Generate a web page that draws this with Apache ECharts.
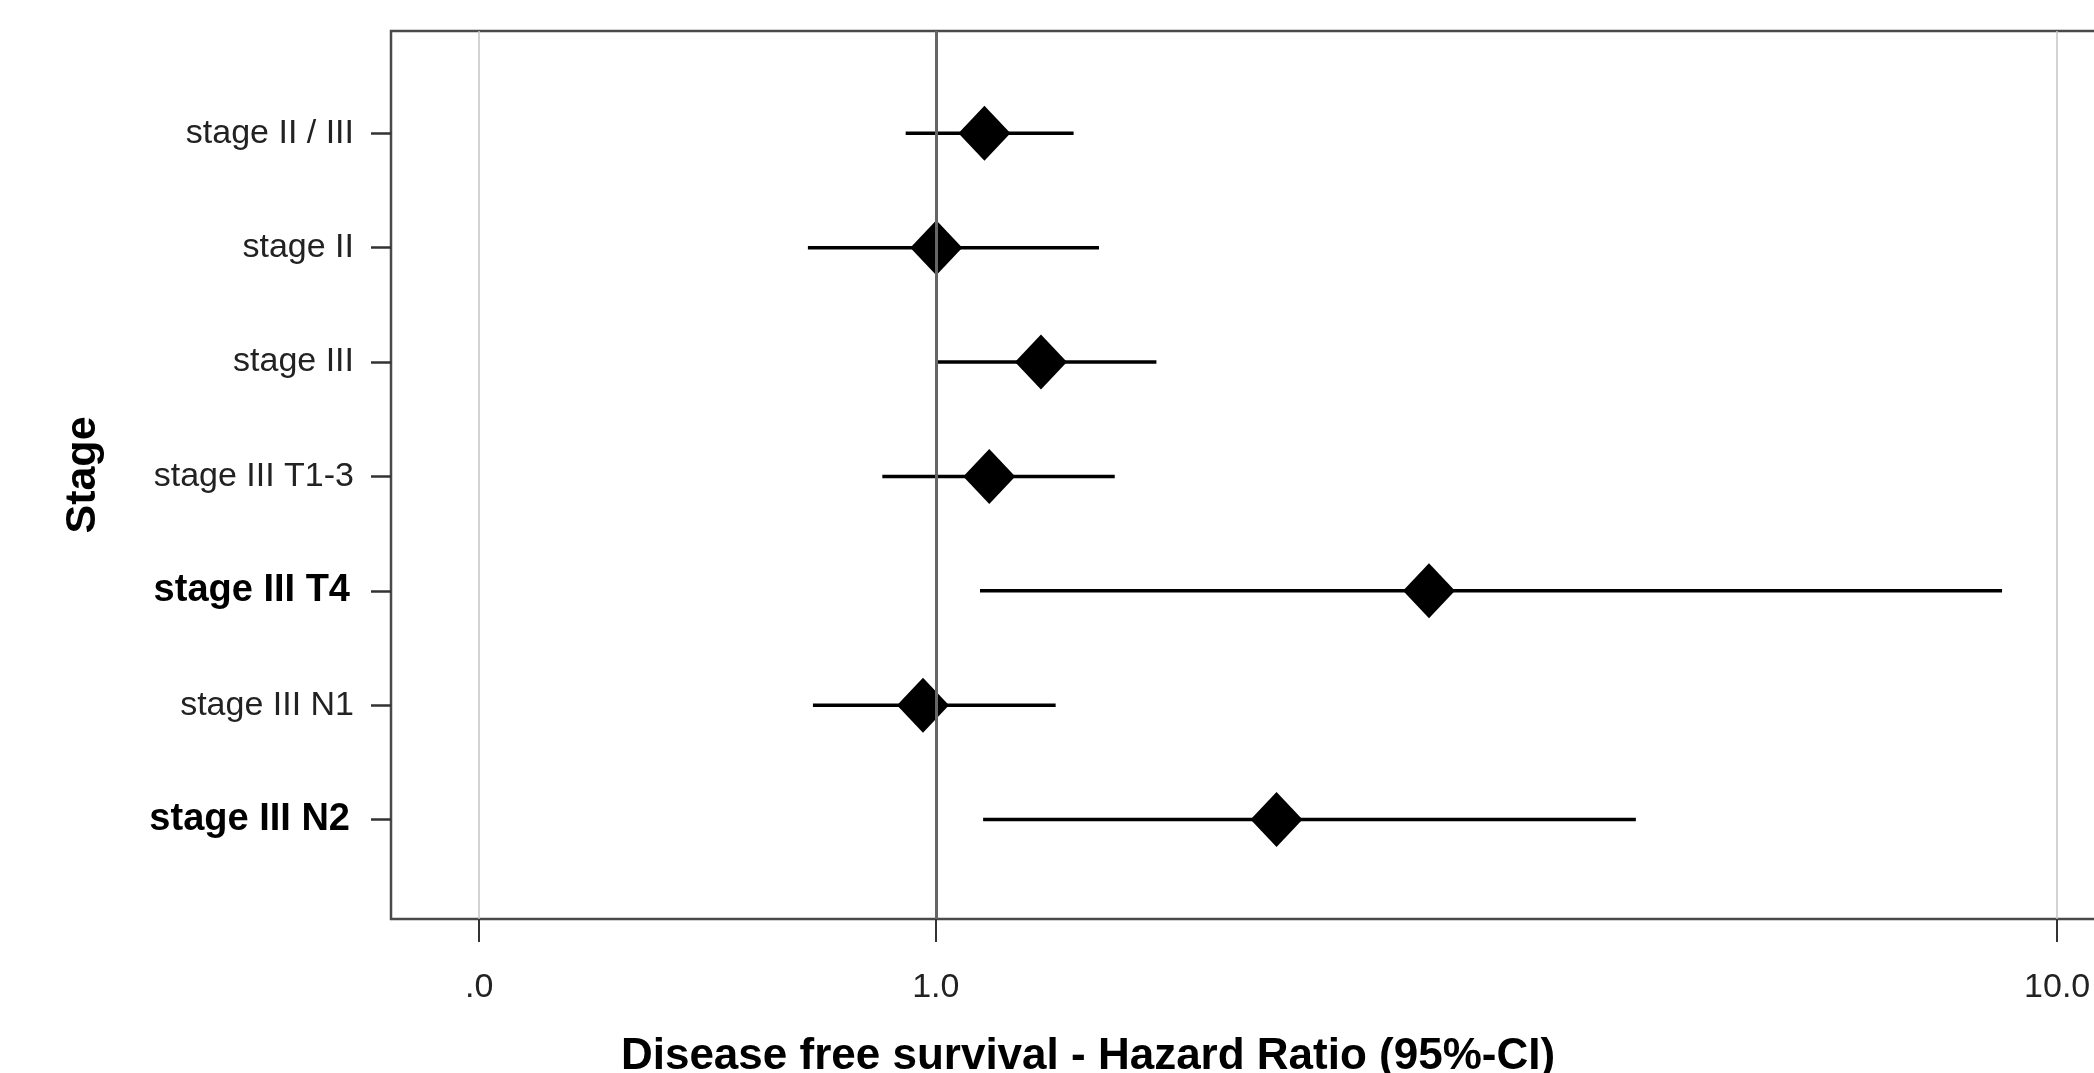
<!DOCTYPE html>
<html>
<head>
<meta charset="utf-8">
<script src="https://cdn.jsdelivr.net/npm/echarts@6/dist/echarts.min.js"></script>
<style>
html, body { margin: 0; padding: 0; background: #fff; }
#chart { width: 2094px; height: 1073px; }
</style>
</head>
<body>
<div id="chart"></div>
<script>
var stages = ['stage II / III', 'stage II', 'stage III', 'stage III T1-3', 'stage III T4', 'stage III N1', 'stage III N2'];
var boldStages = ['stage III T4', 'stage III N2'];
var hazardRatio = [1.105, 1.001, 1.241, 1.116, 2.753, 0.974, 2.013];
var ciLower = [0.940, 0.769, 1.004, 0.896, 1.095, 0.777, 1.102];
var ciUpper = [1.327, 1.398, 1.573, 1.444, 8.93, 1.279, 4.21];
var tickValues = [0.3916, 1, 10];
var tickLabels = ['.0', '1.0', '10.0'];
var xMin = 0.3267, xMax = 10.83;

var FONT = "'Liberation Sans', Arial, sans-serif";
var lg = function (v) { return Math.log10(v); };
var rows = stages.map(function (s, i) { return i + 1; });

var ciData = stages.map(function (s, i) {
    return [lg(ciLower[i]), lg(ciUpper[i]), i + 1];
});
var pointData = stages.map(function (s, i) {
    return [lg(hazardRatio[i]), i + 1];
});
var logTicks = tickValues.map(lg);

var myChart = echarts.init(document.getElementById('chart'));

var option = {
    animation: false,
    backgroundColor: '#fff',
    grid: {
        left: 391,
        right: -2,
        top: 31,
        bottom: 154,
        outerBoundsMode: 'none',
        containLabel: false,
        show: true,
        borderColor: '#4a4a4a',
        borderWidth: 2.5,
        backgroundColor: 'transparent'
    },
    xAxis: {
        type: 'value',
        min: lg(xMin),
        max: lg(xMax),
        axisLine: { show: false, onZero: false },
        axisTick: {
            show: true,
            customValues: logTicks,
            length: 23,
            lineStyle: { color: '#333', width: 2 }
        },
        axisLabel: {
            customValues: logTicks,
            margin: 52,
            fontFamily: FONT,
            fontSize: 34,
            color: '#222',
            formatter: function (v) {
                var best = 0;
                logTicks.forEach(function (t, k) {
                    if (Math.abs(t - v) < Math.abs(logTicks[best] - v)) best = k;
                });
                return tickLabels[best];
            }
        },
        splitLine: {
            show: true,
            lineStyle: { color: '#c4c4c4', width: 1.5 }
        },
        name: 'Disease free survival - Hazard Ratio (95%-CI)',
        nameLocation: 'middle',
        nameGap: 116,
        nameTextStyle: {
            fontFamily: FONT,
            fontWeight: 'bold',
            fontSize: 44,
            color: '#000',
            padding: [0, 311, 0, 0]
        }
    },
    yAxis: {
        type: 'value',
        inverse: true,
        min: 0.105,
        max: 7.87,
        axisLine: { show: false, onZero: false },
        axisTick: {
            show: true,
            customValues: rows,
            length: 20,
            lineStyle: { color: '#333', width: 2.5 }
        },
        axisLabel: {
            customValues: rows,
            margin: 37,
            fontFamily: FONT,
            fontSize: 34,
            color: '#222',
            formatter: function (v) {
                var name = stages[Math.round(v) - 1];
                return boldStages.indexOf(name) >= 0 ? '{b|' + name + '}' : name;
            },
            rich: {
                b: { fontFamily: FONT, fontSize: 38, fontWeight: 'bold', color: '#000', padding: [0, 4, 0, 0] }
            }
        },
        splitLine: { show: false },
        name: 'Stage',
        nameLocation: 'middle',
        nameRotate: 90,
        nameGap: 286,
        nameTextStyle: {
            fontFamily: FONT,
            fontWeight: 'bold',
            fontSize: 43,
            color: '#000'
        }
    },
    series: [
        {
            // reference line at HR = 1
            type: 'scatter',
            data: [],
            z: 1,
            markLine: {
                silent: true,
                symbol: 'none',
                label: { show: false },
                lineStyle: { color: '#666', width: 3, type: 'solid' },
                data: [{ xAxis: 0 }]
            }
        },
        {
            name: 'CI',
            type: 'custom',
            z: 3,
            encode: { x: [0, 1], y: 2 },
            data: ciData,
            renderItem: function (params, api) {
                var p1 = api.coord([api.value(0), api.value(2)]);
                var p2 = api.coord([api.value(1), api.value(2)]);
                return {
                    type: 'line',
                    shape: { x1: p1[0], y1: p1[1], x2: p2[0], y2: p2[1] },
                    style: { stroke: '#000', lineWidth: 3.5 }
                };
            }
        },
        {
            name: 'HR',
            type: 'scatter',
            z: 4,
            symbol: 'diamond',
            symbolSize: [52, 55],
            itemStyle: { color: '#000', opacity: 1 },
            data: pointData
        }
    ]
};

myChart.setOption(option);
</script>
</body>
</html>
